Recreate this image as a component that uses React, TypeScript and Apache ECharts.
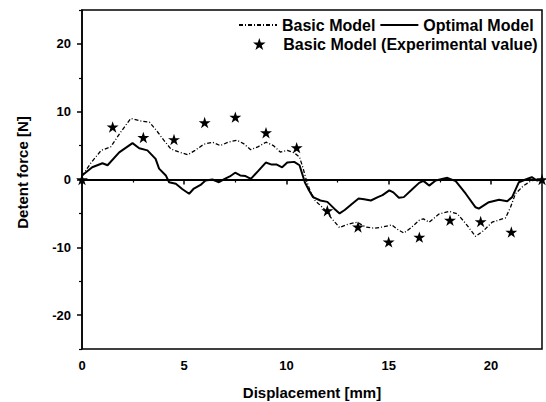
import React, { useEffect, useRef } from 'react';
import * as echarts from 'echarts';

const basicModel: [number, number][] = [
  [0, 0.5], [0.45, 2.5], [0.94, 4.3], [1.4, 4.8], [1.85, 6.8], [2.38, 9.0], [2.9, 8.6], [3.3, 8.45],
  [3.65, 7.2], [4.0, 5.8], [4.35, 4.5], [4.7, 4.1], [5.18, 3.65], [5.53, 4.3], [5.96, 5.2], [6.38, 5.5],
  [6.76, 5.0], [7.15, 5.5], [7.57, 5.8], [7.9, 5.3], [8.25, 4.4], [8.6, 4.8], [9.0, 5.5], [9.36, 5.0],
  [9.7, 4.05], [10.04, 4.3], [10.4, 3.9], [10.64, 3.3], [10.8, 1.8], [10.98, -0.15], [11.15, -1.6],
  [11.4, -3.1], [11.83, -4.3], [12.17, -5.6], [12.6, -7.1], [13.0, -6.6], [13.45, -6.3], [13.87, -7.0],
  [14.3, -7.2], [14.7, -7.0], [15.15, -6.7], [15.4, -7.3], [15.74, -7.9], [16.1, -7.1], [16.5, -6.0],
  [16.7, -5.8], [16.98, -6.3], [17.46, -5.1], [17.95, -4.7], [18.36, -5.06], [18.77, -6.5], [19.25, -8.4],
  [19.66, -7.5], [20.06, -6.3], [20.72, -5.65], [20.96, -4.1], [21.2, -2.1], [21.6, -0.9], [22.0, -0.15],
  [22.5, 0],
];

const optimalModel: [number, number][] = [
  [0, 0.6], [0.5, 1.8], [1.0, 2.4], [1.25, 2.1], [1.82, 4.0], [2.47, 5.36], [2.8, 4.6], [3.2, 4.3],
  [3.6, 3.05], [3.77, 1.6], [4.1, 0.6], [4.26, -0.4], [4.59, -0.64], [4.9, -1.4], [5.24, -2.1],
  [5.45, -1.4], [5.8, -0.8], [6.04, -0.15], [6.38, 0], [6.7, -0.4], [6.98, 0.1], [7.23, 0.45],
  [7.49, 1.0], [7.74, 0.6], [8.0, 0.5], [8.26, 0.1], [8.6, 1.2], [8.99, 2.5], [9.28, 2.2], [9.53, 2.2],
  [9.79, 1.8], [10.04, 2.5], [10.38, 2.6], [10.64, 2.1], [10.9, -0.4], [11.1, -1.6], [11.3, -2.6],
  [11.66, -3.1], [12.0, -3.3], [12.34, -4.3], [12.6, -5.0], [12.85, -4.5], [13.2, -3.6], [13.53, -2.8],
  [13.8, -2.9], [14.13, -3.1], [14.47, -2.6], [14.7, -2.3], [15.03, -1.6], [15.23, -1.9], [15.5, -2.7],
  [15.74, -2.6], [16.1, -1.6], [16.49, -0.5], [16.7, -0.2], [16.98, -0.9], [17.3, -0.15], [17.87, 0.25],
  [18.28, -0.25], [18.77, -2.1], [19.25, -4.1], [19.41, -4.3], [19.9, -3.35], [20.4, -3.0], [20.8, -3.2],
  [21.04, -2.6], [21.37, -0.4], [21.7, 0], [22.0, 0.34], [22.25, -0.15], [22.5, 0],
];

const experimental: [number, number][] = [
  [0, 0], [1.5, 7.75], [3, 6.2], [4.5, 5.9], [6, 8.4], [7.5, 9.2], [9, 6.9], [10.5, 4.7],
  [12, -4.6], [13.5, -7.0], [15, -9.2], [16.5, -8.5], [18, -6.0], [19.5, -6.2], [21, -7.75], [22.5, 0],
];

const xLabelValues = [0, 5, 10, 15, 20];
const xMinorValues = [2.5, 7.5, 12.5, 17.5, 22.5];
const yLabelValues = [-20, -10, 0, 10, 20];
const yMinorValues = [-25, -15, -5, 5, 15, 25];

const STAR =
  'path://M50,0L61.2,34.5L97.6,34.5L68.2,55.9L79.4,90.5L50,69.1L20.6,90.5L31.8,55.9L2.4,34.5L38.8,34.5Z';

const FONT = "'Liberation Sans', Arial, Helvetica, sans-serif";

export default function App() {
  const ref = useRef<HTMLDivElement>(null);

  useEffect(() => {
    if (!ref.current) return;
    const chart = echarts.init(ref.current, null, { renderer: 'svg' });
    const black = '#000';
    const tickLabel = { color: black, fontFamily: FONT, fontWeight: 'bold' as const, fontSize: 13 };
    const nameStyle = { color: black, fontFamily: FONT, fontWeight: 'bold' as const, fontSize: 15 };
    const legendText = { color: black, fontFamily: FONT, fontWeight: 'bold' as const, fontSize: 16 };

    chart.setOption({
      animation: false,
      grid: {
        left: 82,
        right: 4,
        top: 10,
        bottom: 53,
        show: true,
        borderColor: black,
        borderWidth: 1.5,
        backgroundColor: 'transparent',
        containLabel: false,
        outerBoundsMode: 'none',
      },
      legend: [
        {
          left: 233,
          top: 12,
          itemWidth: 38,
          itemHeight: 14,
          itemGap: 4,
          data: ['Basic Model', 'Optimal Model'],
          itemStyle: { color: 'rgba(0,0,0,0)', borderWidth: 0, opacity: 0 },
          textStyle: legendText,
        },
        {
          left: 248,
          top: 31,
          itemWidth: 38,
          itemHeight: 12,
          data: [{ name: 'Basic Model (Experimental value)', icon: STAR }],
          textStyle: legendText,
        },
      ],
      xAxis: [
        {
          type: 'value',
          min: 0,
          max: 22.5,
          position: 'bottom',
          name: 'Displacement [mm]',
          nameLocation: 'middle',
          nameGap: 36,
          nameTextStyle: nameStyle,
          axisLine: { show: true, lineStyle: { color: black, width: 1.5 } },
          axisTick: { show: true, length: 5, customValues: xLabelValues, lineStyle: { color: black, width: 1.5 } },
          axisLabel: { customValues: xLabelValues, margin: 10, ...tickLabel },
          splitLine: { show: false },
        },
        {
          type: 'value',
          min: 0,
          max: 22.5,
          position: 'bottom',
          axisLine: { show: false },
          axisTick: { show: true, length: 3, customValues: xMinorValues, lineStyle: { color: black, width: 1.2 } },
          axisLabel: { show: false },
          splitLine: { show: false },
        },
      ],
      yAxis: [
        {
          type: 'value',
          min: -25,
          max: 25,
          position: 'left',
          name: 'Detent force [N]',
          nameLocation: 'middle',
          nameGap: 52,
          nameTextStyle: { ...nameStyle, padding: [0, 0, 0, 14] },
          axisLine: { show: true, lineStyle: { color: black, width: 1.5 } },
          axisTick: { show: true, length: 5, customValues: yLabelValues, lineStyle: { color: black, width: 1.5 } },
          axisLabel: { customValues: yLabelValues, margin: 11, ...tickLabel },
          splitLine: { show: false },
        },
        {
          type: 'value',
          min: -25,
          max: 25,
          position: 'left',
          axisLine: { show: false },
          axisTick: { show: true, length: 3, customValues: yMinorValues, lineStyle: { color: black, width: 1.2 } },
          axisLabel: { show: false },
          splitLine: { show: false },
        },
      ],
      series: [
        {
          name: 'Basic Model',
          type: 'line',
          data: basicModel,
          symbol: 'none',
          lineStyle: { color: black, width: 1.3, type: [4, 2, 1, 2] },
          itemStyle: { color: black },
          z: 3,
        },
        {
          name: 'Optimal Model',
          type: 'line',
          data: optimalModel,
          symbol: 'none',
          lineStyle: { color: black, width: 2 },
          itemStyle: { color: black },
          z: 4,
          markLine: {
            silent: true,
            symbol: ['none', 'none'],
            label: { show: false },
            lineStyle: { color: black, width: 2, type: 'solid' },
            data: [{ yAxis: 0 }],
          },
        },
        {
          name: 'Basic Model (Experimental value)',
          type: 'scatter',
          data: experimental,
          symbol: STAR,
          symbolSize: 12,
          symbolKeepAspect: true,
          itemStyle: { color: black, opacity: 1 },
          z: 5,
        },
      ],
    });

    return () => chart.dispose();
  }, []);

  return (
    <div
      ref={ref}
      style={{ position: 'fixed', left: 0, top: 0, width: 546, height: 402, background: '#fff' }}
    />
  );
}
